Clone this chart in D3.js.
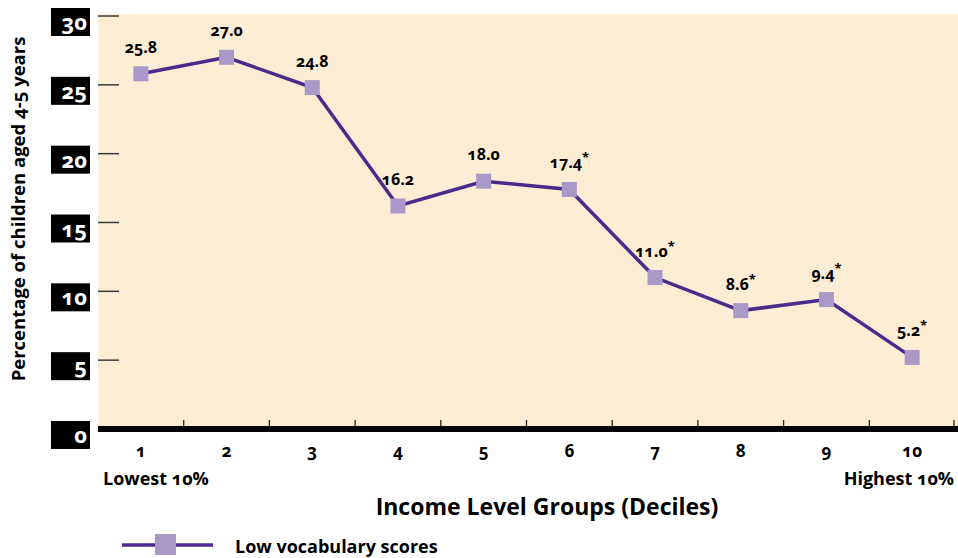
<!DOCTYPE html>
<html>
<head>
<meta charset="utf-8">
<script src="https://cdn.jsdelivr.net/npm/d3@7"></script>
<style>
  body { margin: 0; background: #fff; }
  svg text { font-family: "Open Sans", "Noto Sans", sans-serif; font-variant-numeric: oldstyle-nums; }
</style>
</head>
<body>
<div id="chart"></div>
<script>
// data
var deciles = ["1", "2", "3", "4", "5", "6", "7", "8", "9", "10"];
var lowVocab = [25.8, 27.0, 24.8, 16.2, 18.0, 17.4, 11.0, 8.6, 9.4, 5.2];
var valueLabels = ["25.8", "27.0", "24.8", "16.2", "18.0", "17.4", "11.0", "8.6", "9.4", "5.2"];
var starred = [false, false, false, false, false, true, true, true, true, true];
var yTicks = [0, 5, 10, 15, 20, 25, 30];

var W = 958, H = 558;
var margin = {top: 16, right: 3, bottom: 129, left: 98};

var svg = d3.select("#chart").append("svg")
    .attr("width", W)
    .attr("height", H);

var x = d3.scaleBand()
    .domain(deciles)
    .range([margin.left, W - margin.right]);

var y = d3.scaleLinear()
    .domain([0, 30])
    .range([H - margin.bottom, margin.top]);

// plot background
svg.append("rect")
    .attr("x", margin.left)
    .attr("y", margin.top - 2)
    .attr("width", W - margin.left)
    .attr("height", y(0) - margin.top + 2)
    .style("fill", "#fdedd5");

// y ticks: short dark line + black label box
var yt = svg.append("g").selectAll("g")
    .data(yTicks)
  .enter().append("g");

yt.filter(d => d > 0).append("line")
    .attr("x1", margin.left)
    .attr("x2", margin.left + 21)
    .attr("y1", d => y(d))
    .attr("y2", d => y(d))
    .style("stroke", "#3a3a3a")
    .style("stroke-width", 1.5);

yt.append("rect")
    .attr("x", 51)
    .attr("y", d => y(d) - 8)
    .attr("width", 39)
    .attr("height", 28)
    .style("fill", "#000");

yt.append("text")
    .attr("x", 87)
    .attr("y", d => y(d) + 14)
    .attr("text-anchor", "end")
    .style("font-size", "22px")
    .style("font-weight", "bold")
    .style("fill", "#fff")
    .text(d => d);

// x axis: small ticks at band edges + thick baseline
var edges = deciles.slice(1).map(d => x(d)).concat([x.range()[1] - 1]);
svg.append("g").selectAll("line")
    .data(edges)
  .enter().append("line")
    .attr("x1", d => d).attr("x2", d => d)
    .attr("y1", y(0) - 9).attr("y2", y(0))
    .style("stroke", "#222")
    .style("stroke-width", 1.3);

svg.append("line")
    .attr("x1", margin.left)
    .attr("x2", W)
    .attr("y1", y(0))
    .attr("y2", y(0))
    .style("stroke", "#000")
    .style("stroke-width", 6);

svg.append("g").selectAll("text")
    .data(deciles)
  .enter().append("text")
    .attr("x", d => x(d) + x.bandwidth() / 2)
    .attr("y", y(0) + 28)
    .attr("text-anchor", "middle")
    .style("font-size", "17px")
    .style("font-weight", "bold")
    .text(d => d);

svg.append("text")
    .attr("x", 103)
    .attr("y", 485)
    .style("font-size", "18px")
    .style("font-weight", "bold")
    .text("Lowest 10%");

svg.append("text")
    .attr("x", 954)
    .attr("y", 485)
    .attr("text-anchor", "end")
    .style("font-size", "18px")
    .style("font-weight", "bold")
    .text("Highest 10%");

svg.append("text")
    .attr("x", 547)
    .attr("y", 515)
    .attr("text-anchor", "middle")
    .style("font-size", "23px")
    .style("font-weight", "bold")
    .text("Income Level Groups (Deciles)");

svg.append("text")
    .attr("transform", "translate(25," + 209 + ") rotate(-90)")
    .attr("text-anchor", "middle")
    .style("font-size", "18.5px")
    .style("font-weight", "bold")
    .text("Percentage of children aged 4-5 years");

// series line + markers
var line = d3.line()
    .x((d, i) => x(deciles[i]) + x.bandwidth() / 2)
    .y(d => y(d));

svg.append("path")
    .datum(lowVocab)
    .attr("d", line)
    .style("fill", "none")
    .style("stroke", "#4b2a8c")
    .style("stroke-width", 3.5);

var ms = 15;
svg.append("g").selectAll("rect")
    .data(lowVocab)
  .enter().append("rect")
    .attr("x", (d, i) => x(deciles[i]) + x.bandwidth() / 2 - ms / 2)
    .attr("y", d => y(d) - ms / 2)
    .attr("width", ms)
    .attr("height", ms)
    .style("fill", "#a999c9");

var lbl = svg.append("g").selectAll("text")
    .data(lowVocab)
  .enter().append("text")
    .attr("x", (d, i) => x(deciles[i]) + x.bandwidth() / 2)
    .attr("y", d => y(d) - 21)
    .attr("text-anchor", "middle")
    .style("font-size", "16px")
    .style("font-weight", "bold");
lbl.append("tspan").text((d, i) => valueLabels[i]);
lbl.append("tspan")
    .attr("dy", -6)
    .style("font-size", "13px")
    .text((d, i) => starred[i] ? "*" : "");

// legend
svg.append("line")
    .attr("x1", 122).attr("x2", 213)
    .attr("y1", 545).attr("y2", 545)
    .style("stroke", "#4b2a8c")
    .style("stroke-width", 3.5);
svg.append("rect")
    .attr("x", 155).attr("y", 534)
    .attr("width", 21).attr("height", 21)
    .style("fill", "#a999c9");
svg.append("text")
    .attr("x", 235)
    .attr("y", 553)
    .style("font-size", "18px")
    .style("font-weight", "bold")
    .text("Low vocabulary scores");
</script>
</body>
</html>
